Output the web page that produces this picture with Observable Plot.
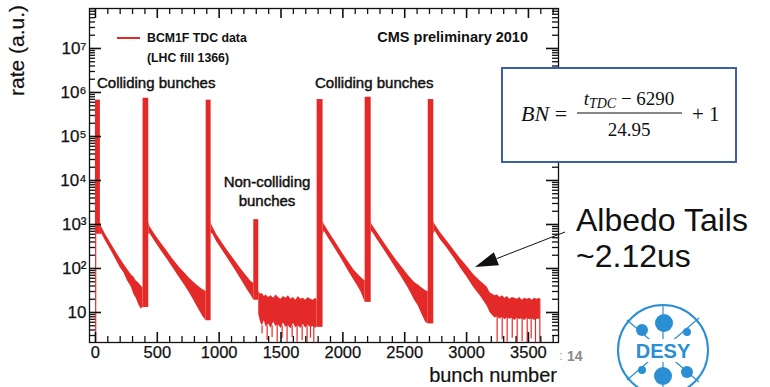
<!DOCTYPE html>
<html><head><meta charset="utf-8">
<script src="https://cdn.jsdelivr.net/npm/d3@7"></script>
<script src="https://cdn.jsdelivr.net/npm/@observablehq/plot@0.6"></script>
<style>
html,body{margin:0;padding:0;background:#fff;}
#chart{width:770px;height:387px;overflow:hidden;position:relative;}
</style></head><body><div id="chart"></div>
<script>
// ---- data ----
// noise band (upper/lower envelope) per segment: tails after each colliding train and the floors
const bandBunch = [
  [40, 50, 80, 120, 160, 200, 230, 260, 290, 310, 330, 350, 370, 385],
  [431, 440, 480, 530, 580, 630, 680, 720, 760, 790, 820, 850, 870, 895],
  [935, 945, 980, 1030, 1080, 1130, 1180, 1230, 1260, 1280],
  [1320, 1335, 1350, 1365, 1380, 1400, 1420, 1440, 1460, 1480, 1500, 1520, 1540, 1560, 1580, 1600, 1620, 1640, 1660, 1680, 1700, 1720, 1740, 1760, 1780, 1792],
  [1840, 1850, 1890, 1940, 1990, 2040, 2090, 2120, 2150, 2180],
  [2229, 2235, 2280, 2330, 2380, 2430, 2480, 2530, 2580, 2610, 2640, 2670, 2690],
  [2735, 2745, 2790, 2843, 2900, 2951, 3000, 3058, 3110, 3166, 3190, 3210, 3230, 3250, 3270, 3290, 3310, 3330, 3350, 3370, 3390, 3410, 3430, 3450, 3470, 3490, 3510, 3530, 3550, 3570, 3595]
];
const bandHigh = [
  [1150, 880, 610, 395, 255, 168, 125, 95, 72, 64, 52, 47, 40, 36],
  [1150, 900, 600, 380, 245, 158, 105, 80, 60, 50, 42, 36, 33, 30],
  [1100, 910, 590, 363, 229, 148, 95, 63, 50, 46],
  [30, 26, 27, 23, 25, 22, 24, 21, 25, 22, 20, 23, 21, 24, 20, 22, 19, 23, 20, 21, 19, 22, 20, 19, 21, 19],
  [1150, 1000, 660, 398, 240, 148, 93, 75, 62, 52],
  [1150, 1000, 645, 398, 251, 158, 105, 69, 48, 42, 36, 31, 30],
  [1150, 1000, 645, 417, 257, 166, 115, 72, 52, 38, 28, 26, 24, 25, 22, 24, 21, 23, 20, 22, 21, 20, 22, 19, 21, 20, 21, 19, 21, 20, 21]
];
const bandLow = [
  [560, 620, 430, 272, 172, 106, 80, 52, 38, 26, 21, 15, 12, 13],
  [600, 620, 417, 257, 162, 100, 62, 42, 28, 20, 14, 10, 8, 6.5],
  [600, 630, 407, 251, 151, 93, 55, 32, 24, 19],
  [9, 6, 5, 6.5, 4.6, 5.5, 4.4, 6, 4.8, 5.2, 4.3, 5.8, 4.6, 5, 4.2, 5.6, 4.5, 5, 4.3, 5.4, 4.4, 5.2, 4.5, 4.8, 4.4, 4.6],
  [560, 700, 457, 275, 162, 93, 54, 40, 28, 17],
  [600, 700, 447, 275, 166, 100, 60, 35, 19, 14, 9, 6, 5.5],
  [600, 700, 447, 288, 170, 102, 66, 37, 24, 14, 10, 8.5, 7.5, 8, 7, 7.8, 6.8, 7.6, 7, 7.4, 6.6, 7.5, 6.9, 7.2, 6.6, 7.4, 6.8, 7.2, 6.6, 7, 7]
];
// colliding / non-colliding bunch peaks
const spikeStart = [0, 385, 895, 1280, 1792, 2180, 2690];
const spikeEnd   = [40, 431, 935, 1320, 1840, 2229, 2735];
const spikeBase  = [600, 13, 6.5, 19, 4.6, 17, 5.5];
const spikeTop   = [6.7e5, 7.4e5, 6.7e5, 1290, 6.9e5, 7.8e5, 6.9e5];
// downward fluctuations reaching the bottom of the frame
const dropBunch = [2, 1347, 1388, 1428, 1469, 1509, 1549, 1590, 1630, 1671, 1711, 1738, 1765,
                   3247, 3288, 3328, 3369, 3409, 3449, 3490, 3522, 3557, 3592];
const dropLow   = [2.08, 3.3, 2.3, 2.7, 2.1, 2.6, 2.1, 2.7, 2.1, 2.3, 2.1, 2.6, 2.1,
                   2.1, 2.4, 2.1, 2.6, 2.1, 2.2, 2.1, 2.5, 2.1, 2.1];
const dropHigh  = [600, 5, 5, 5, 5, 5, 5, 5, 5, 5, 5, 5, 5,
                   8, 8, 8, 8, 8, 8, 8, 8, 8, 20];
// axes
const xTicks = [0, 500, 1000, 1500, 2000, 2500, 3000, 3500];
const yTicks = [10, 1e2, 1e3, 1e4, 1e5, 1e6, 1e7];
const xDomain = [-48, 3743];
const yDomain = [2.08, 8.1e7];

// ---- build tables ----
const band = [];
bandBunch.forEach((seg, i) => seg.forEach((b, j) => band.push({seg: i, b, hi: bandHigh[i][j], lo: bandLow[i][j]})));
const spikes = spikeStart.map((s, i) => ({x1: s, x2: spikeEnd[i], y1: spikeBase[i], y2: spikeTop[i]}));
const drops = dropBunch.map((b, i) => ({b, lo: dropLow[i], hi: dropHigh[i]}));
const xMinor = d3.range(0, 3701, 100).filter(v => v % 500 !== 0);
const yMinor = [];
for (let e = 0; e < 8; e++) for (let k = 2; k <= 9; k++) { const v = k * 10 ** e; if (v > yDomain[0] && v < yDomain[1]) yMinor.push(v); }
const sup = "⁰¹²³⁴⁵⁶⁷⁸⁹";
const fmtY = v => { const e = Math.round(Math.log10(v)); return e === 1 ? "10" : "10" + sup[e]; };

const red = "#e32a28";
const ink = "#111";
const font = "'Liberation Sans', Arial, sans-serif";
const W = 770, H = 387, mL = 89, mR = 212, mT = 8, mB = 45;
const fw = W - mL - mR, fh = H - mT - mB;

const chart = Plot.plot({
  width: W, height: H,
  marginLeft: mL, marginRight: mR, marginTop: mT, marginBottom: mB,
  style: {fontFamily: font, background: "white", color: ink, overflow: "visible"},
  x: {domain: xDomain},
  y: {type: "log", domain: yDomain},
  marks: [
    Plot.areaY(band, {x: "b", y1: "lo", y2: "hi", z: "seg", fill: red, curve: "linear"}),
    Plot.rectY(spikes, {x1: "x1", x2: "x2", y1: "y1", y2: "y2", fill: red}),
    Plot.ruleX(drops, {x: "b", y1: "lo", y2: "hi", stroke: red, strokeWidth: 1.2}),
    // inward frame ticks as rules inset from the opposite side
    Plot.ruleY(yTicks, {y: d => d, insetRight: fw - 12, stroke: ink, strokeWidth: 1.6}),
    Plot.ruleY(yMinor, {y: d => d, insetRight: fw - 6, stroke: ink, strokeWidth: 1.3}),
    Plot.ruleY(yTicks, {y: d => d, insetLeft: fw - 12, stroke: ink, strokeWidth: 1.6}),
    Plot.ruleY(yMinor, {y: d => d, insetLeft: fw - 6, stroke: ink, strokeWidth: 1.3}),
    Plot.ruleX(xTicks, {x: d => d, insetTop: fh - 10, stroke: ink, strokeWidth: 1.6}),
    Plot.ruleX(xMinor, {x: d => d, insetTop: fh - 6, stroke: ink, strokeWidth: 1.3}),
    Plot.ruleX(xTicks, {x: d => d, insetBottom: fh - 10, stroke: ink, strokeWidth: 1.6}),
    Plot.ruleX(xMinor, {x: d => d, insetBottom: fh - 6, stroke: ink, strokeWidth: 1.3}),
    Plot.axisY({anchor: "left", ticks: yTicks, tickSize: 0, tickPadding: 3, tickFormat: fmtY, label: null, fontSize: 17, fill: ink, textStroke: ink, textStrokeWidth: 0.25}),
    Plot.axisX({anchor: "bottom", ticks: xTicks, tickSize: 0, tickPadding: 4, tickFormat: d => String(d), label: null, fontSize: 16.5, fill: ink, textStroke: ink, textStrokeWidth: 0.25}),
    Plot.frame({stroke: ink, strokeWidth: 1.3})
  ]
});
document.getElementById("chart").appendChild(chart);

const svg = d3.select(chart);
const sx = chart.scale("x"), sy = chart.scale("y");

// ---- annotations ----
function txt(x, y, s, o = {}) {
  const t = svg.append("text").attr("x", x).attr("y", y).text(s)
    .attr("font-family", o.family || font).attr("font-size", o.size || 15)
    .attr("font-weight", o.weight || "normal").attr("fill", o.fill || ink)
    .attr("text-anchor", o.anchor || "start").attr("dominant-baseline", o.base || "middle");
  if (o.bold) t.attr("stroke", o.fill || ink).attr("stroke-width", o.bold);
  return t;
}
// axis titles
txt(24, 5, "rate (a.u.)", {size: 21, anchor: "end", base: "auto", bold: 0.2}).attr("transform", "rotate(-90,24,5)");
txt(557, 377, "bunch number", {size: 20, anchor: "end", bold: 0.2});
// legend and labels
svg.append("rect").attr("x", 117).attr("y", 37).attr("width", 23).attr("height", 2).attr("fill", red);
txt(147, 38.5, "BCM1F TDC data", {size: 12.3, weight: "bold"});
txt(147, 59, "(LHC fill 1366)", {size: 12.3, weight: "bold"});
txt(528, 38, "CMS preliminary 2010", {size: 14.5, weight: "bold", anchor: "end"});
txt(97, 84, "Colliding bunches", {size: 15, bold: 0.45});
txt(315, 84, "Colliding bunches", {size: 15, bold: 0.45});
txt(267, 183, "Non-colliding", {size: 15, anchor: "middle", bold: 0.45});
txt(267, 202, "bunches", {size: 15, anchor: "middle", bold: 0.45});

// formula box
svg.append("rect").attr("x", 502).attr("y", 68).attr("width", 234).attr("height", 94)
  .attr("fill", "white").attr("stroke", "#3d5ea9").attr("stroke-width", 2);
const serif = "'Liberation Serif', 'DejaVu Serif', serif";
const f1 = svg.append("text").attr("x", 521).attr("y", 121).attr("text-anchor", "start").attr("font-family", serif).attr("font-size", 22).attr("fill", ink);
f1.append("tspan").attr("font-style", "italic").text("BN");
f1.append("tspan").text(" = ");
const num = svg.append("text").attr("x", 629).attr("y", 105).attr("text-anchor", "middle").attr("font-family", serif).attr("font-size", 19).attr("fill", ink);
num.append("tspan").attr("font-style", "italic").text("t");
num.append("tspan").attr("font-style", "italic").attr("font-size", 14).attr("dy", 3).text("TDC");
num.append("tspan").attr("dy", -3).text("\u2005−\u20056290");
svg.append("rect").attr("x", 577).attr("y", 112.5).attr("width", 105).attr("height", 1).attr("fill", ink);
svg.append("text").attr("x", 629).attr("y", 136).attr("text-anchor", "middle").attr("font-family", serif).attr("font-size", 19).attr("fill", ink).text("24.95");
svg.append("text").attr("x", 692).attr("y", 121).attr("text-anchor", "start").attr("font-family", serif).attr("font-size", 21).attr("fill", ink).text("+ 1");

// albedo annotation
txt(576, 231, "Albedo Tails", {size: 32, base: "auto", fill: "#111"});
txt(576, 267, "~2.12us", {size: 32, base: "auto", fill: "#111"});
const tip = [sx.apply(3072), sy.apply(105)];
const tail = [565, 232];
const ux = tail[0] - tip[0], uy = tail[1] - tip[1], L = Math.hypot(ux, uy);
const u = [ux / L, uy / L], p = [-u[1], u[0]];
const hl = 23, hw = 7;
const bx = tip[0] + u[0] * hl, by = tip[1] + u[1] * hl;
svg.append("line").attr("x1", tail[0]).attr("y1", tail[1]).attr("x2", bx).attr("y2", by).attr("stroke", "#111").attr("stroke-width", 1);
svg.append("path").attr("d", `M${tip[0]},${tip[1]}L${bx + p[0] * hw},${by + p[1] * hw}L${bx - p[0] * hw},${by - p[1] * hw}Z`).attr("fill", "#111");

// page number
txt(561, 357, ":", {size: 12, fill: "#9a9a9a", anchor: "middle"});
txt(567, 357, "14", {size: 14, weight: "bold", fill: "#8a8a8a"});

// DESY logo
const blue = "#2b8fd3";
const g = svg.append("g");
g.append("circle").attr("cx", 663).attr("cy", 350).attr("r", 45).attr("fill", "white").attr("stroke", blue).attr("stroke-width", 2);
[[663, 305, 663, 395], [627, 320, 699, 382], [627, 380, 699, 318]].forEach(l =>
  g.append("line").attr("x1", l[0]).attr("y1", l[1]).attr("x2", l[2]).attr("y2", l[3]).attr("stroke", blue).attr("stroke-width", 1.2));
g.append("rect").attr("x", 632).attr("y", 339).attr("width", 62).attr("height", 23).attr("fill", "white");
[[664, 323, 9], [642, 330, 6], [687, 332, 4], [663, 376, 9], [642, 370, 4], [687, 372, 6]].forEach(c =>
  g.append("circle").attr("cx", c[0]).attr("cy", c[1]).attr("r", c[2]).attr("fill", blue));
txt(663, 358, "DESY", {size: 20, weight: "bold", fill: blue, anchor: "middle", base: "auto"});
</script></body></html>
